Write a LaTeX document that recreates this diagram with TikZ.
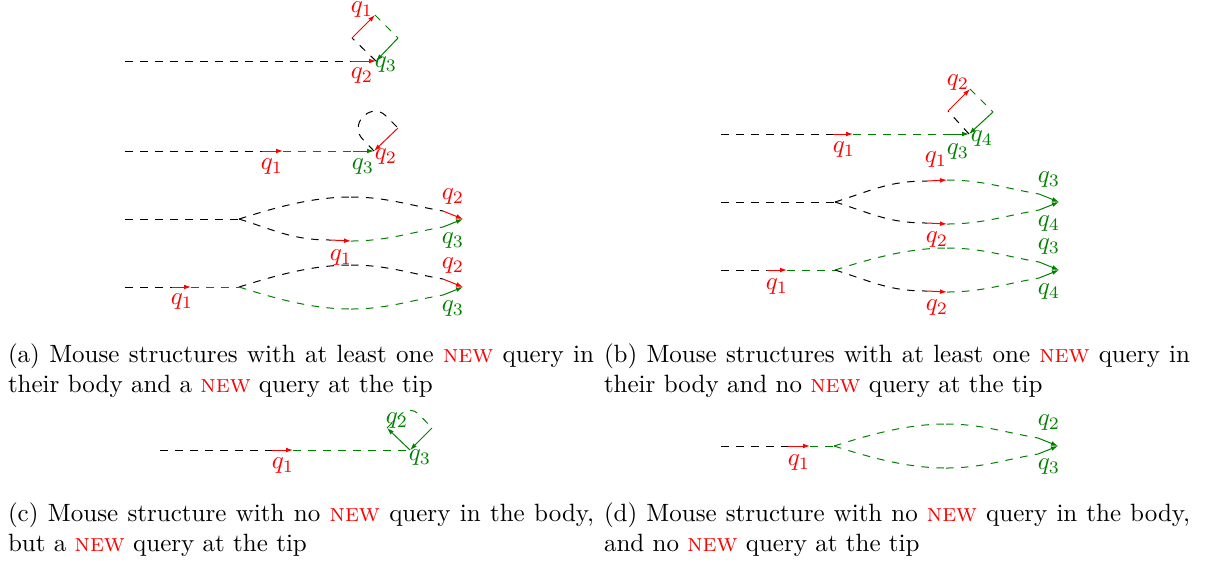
\documentclass[tikz,border=0pt]{standalone}
\usetikzlibrary{arrows.meta,calc}
\definecolor{qgreen}{rgb}{0,0.5,0}
\newcommand{\NEWtag}{{\color{red}\textsc{new}}}
% points of a two-branch lens: prefix, start x, row y
\newcommand{\lenspts}[3]{%
  \coordinate (#1S) at (#2,#3);
  \coordinate (#1Qu) at ({#2+92},{#3-21});
  \coordinate (#1Mu) at ({#2+112},{#3-22});
  \coordinate (#1Pu) at ({#2+204},{#3-8});
  \coordinate (#1Qd) at ({#2+92},{#3+21});
  \coordinate (#1Md) at ({#2+112},{#3+22});
  \coordinate (#1Pd) at ({#2+204},{#3+8});
  \coordinate (#1E) at ({#2+224},#3);}
% curved pieces of a lens branch
\newcommand{\riseup}[3]{\draw[#1] (#2) .. controls ($(#2)+(38,-12)$) and ($(#3)+(-38,0)$) .. (#3);}
\newcommand{\risedn}[3]{\draw[#1] (#2) .. controls ($(#2)+(38,12)$) and ($(#3)+(-38,0)$) .. (#3);}
\newcommand{\fallup}[3]{\draw[#1] (#2) .. controls ($(#2)+(35,0)$) and ($(#3)+(-35,-6)$) .. (#3);}
\newcommand{\falldn}[3]{\draw[#1] (#2) .. controls ($(#2)+(35,0)$) and ($(#3)+(-35,6)$) .. (#3);}
\begin{document}
\begin{tikzpicture}[x=0.4pt,y=-0.4pt,
  body/.style={dashed,black},
  bodyg/.style={dashed,qgreen},
  freshq/.style={red,-{Latex[length=2.8pt,width=1.9pt]}},
  oldq/.style={qgreen,-{Latex[length=2.8pt,width=1.9pt]}},
  rlab/.style={text=red,inner sep=0pt},
  glab/.style={text=qgreen,inner sep=0pt},
  capbox/.style={text width=234.4pt,align=justify,anchor=base west,inner sep=0pt}]
\useasboundingbox (0,0) rectangle (1205,563);

% ---------- (a) row 1: new query at the tip, loop closing on it
\coordinate (a1s) at (125,61);
\coordinate (a1p) at (351,61);
\coordinate (a1t) at (376,61);
\coordinate (a1L) at (352,38);
\coordinate (a1U) at (375,15);
\coordinate (a1R) at (398,38);
\draw[body] (a1s) -- (a1p);
\draw[freshq] (a1p) -- (a1t);
\draw[body] (a1t) -- (a1L);
\draw[freshq] (a1L) -- (a1U);
\draw[bodyg] (a1U) -- (a1R);
\draw[oldq] (a1R) -- (a1t);
\node[rlab] (a1n2) at (362,76) {$q_2$};
\node[rlab] (a1n1) at (362,10) {$q_1$};
\node[glab] (a1n3) at (386,65) {$q_3$};

% ---------- (a) row 2
\coordinate (a2s) at (125,151);
\coordinate (a2p) at (262,151);
\coordinate (a2q) at (283,151);
\coordinate (a2r) at (353,151);
\coordinate (a2t) at (374,151);
\coordinate (a2L) at (352,128);
\coordinate (a2U) at (375,105);
\coordinate (a2R) at (398,128);
\draw[body] (a2s) -- (a2p);
\draw[freshq] (a2p) -- (a2q);
\draw[bodyg] (a2q) -- (a2r);
\draw[oldq] (a2r) -- (a2t);
\draw[body,rounded corners=6pt] (a2t) -- (a2L) -- (a2U) -- (a2R);
\draw[freshq] (a2R) -- (a2t);
\node[rlab] (a2n1) at (272,167) {$q_1$};
\node[glab] (a2n3) at (363,167) {$q_3$};
\node[rlab] (a2n2) at (386,157) {$q_2$};

% ---------- (a) row 3
\coordinate (a3s) at (125,219);
\lenspts{a3}{239}{219}
\draw[body] (a3s) -- (a3S);
\riseup{body}{a3S}{a3Mu}
\fallup{body}{a3Mu}{a3Pu}
\draw[freshq] (a3Pu) -- (a3E);
\risedn{body}{a3S}{a3Qd}
\draw[freshq] (a3Qd) -- (a3Md);
\falldn{bodyg}{a3Md}{a3Pd}
\draw[oldq] (a3Pd) -- (a3E);
\node[rlab] (a3n2) at (453,197) {$q_2$};
\node[rlab] (a3n1) at (341,258) {$q_1$};
\node[glab] (a3n3) at (453,241) {$q_3$};

% ---------- (a) row 4
\coordinate (a4s) at (125,287);
\coordinate (a4p) at (172,287);
\coordinate (a4q) at (191,287);
\lenspts{a4}{239}{287}
\draw[body] (a4s) -- (a4p);
\draw[freshq] (a4p) -- (a4q);
\draw[bodyg] (a4q) -- (a4S);
\riseup{body}{a4S}{a4Mu}
\fallup{body}{a4Mu}{a4Pu}
\draw[freshq] (a4Pu) -- (a4E);
\risedn{bodyg}{a4S}{a4Md}
\falldn{bodyg}{a4Md}{a4Pd}
\draw[oldq] (a4Pd) -- (a4E);
\node[rlab] (a4n1) at (182,302) {$q_1$};
\node[rlab] (a4n2) at (453,266) {$q_2$};
\node[glab] (a4n3) at (453,309) {$q_3$};

% ---------- (b) row 1
\coordinate (b1s) at (721,134);
\coordinate (b1p) at (833,134);
\coordinate (b1q) at (853,134);
\coordinate (b1r) at (948,134);
\coordinate (b1t) at (969,134);
\coordinate (b1L) at (948,111);
\coordinate (b1U) at (970,89);
\coordinate (b1R) at (993,112);
\draw[body] (b1s) -- (b1p);
\draw[freshq] (b1p) -- (b1q);
\draw[bodyg] (b1q) -- (b1r);
\draw[oldq] (b1r) -- (b1t);
\draw[body] (b1t) -- (b1L);
\draw[freshq] (b1L) -- (b1U);
\draw[bodyg] (b1U) -- (b1R);
\draw[oldq] (b1R) -- (b1t);
\node[rlab] (b1n1) at (844,150) {$q_1$};
\node[glab] (b1n3) at (958,152) {$q_3$};
\node[glab] (b1n4) at (982,139) {$q_4$};
\node[rlab] (b1n2) at (958,83) {$q_2$};

% ---------- (b) row 2
\coordinate (b2s) at (721,202);
\lenspts{b2}{835}{202}
\draw[body] (b2s) -- (b2S);
\riseup{body}{b2S}{b2Qu}
\draw[freshq] (b2Qu) -- (b2Mu);
\fallup{bodyg}{b2Mu}{b2Pu}
\draw[oldq] (b2Pu) -- (b2E);
\risedn{body}{b2S}{b2Qd}
\draw[freshq] (b2Qd) -- (b2Md);
\falldn{bodyg}{b2Md}{b2Pd}
\draw[oldq] (b2Pd) -- (b2E);
\node[rlab] (b2n1) at (936,160) {$q_1$};
\node[rlab] (b2n2) at (937,240) {$q_2$};
\node[glab] (b2n3) at (1049,180) {$q_3$};
\node[glab] (b2n4) at (1049,224) {$q_4$};

% ---------- (b) row 3
\coordinate (b3s) at (721,270);
\coordinate (b3p) at (767,270);
\coordinate (b3q) at (787,270);
\lenspts{b3}{835}{270}
\draw[body] (b3s) -- (b3p);
\draw[freshq] (b3p) -- (b3q);
\draw[bodyg] (b3q) -- (b3S);
\riseup{bodyg}{b3S}{b3Mu}
\fallup{bodyg}{b3Mu}{b3Pu}
\draw[oldq] (b3Pu) -- (b3E);
\risedn{body}{b3S}{b3Qd}
\draw[freshq] (b3Qd) -- (b3Md);
\falldn{bodyg}{b3Md}{b3Pd}
\draw[oldq] (b3Pd) -- (b3E);
\node[rlab] (b3n1) at (777,287) {$q_1$};
\node[rlab] (b3n2) at (937,308) {$q_2$};
\node[glab] (b3n3) at (1049,247) {$q_3$};
\node[glab] (b3n4) at (1049,292) {$q_4$};

% ---------- (c)
\coordinate (c0s) at (160,450);
\coordinate (c0p) at (272,450);
\coordinate (c0q) at (293,450);
\coordinate (c0t) at (410,450);
\coordinate (c0L) at (387,428);
\coordinate (c0U) at (410,405);
\coordinate (c0R) at (432,428);
\draw[body] (c0s) -- (c0p);
\draw[freshq] (c0p) -- (c0q);
\draw[bodyg] (c0q) -- (c0t);
\draw[oldq] (c0t) -- (c0L);
\draw[bodyg,rounded corners=5pt] (c0L) -- (c0U) -- (c0R);
\draw[oldq] (c0R) -- (c0t);
\node[rlab] (c0n1) at (283,466) {$q_1$};
\node[glab] (c0n2) at (397,421) {$q_2$};
\node[glab] (c0n3) at (420,458) {$q_3$};

% ---------- (d)
\coordinate (d0s) at (721,446);
\coordinate (d0p) at (788,446);
\coordinate (d0q) at (810,446);
\lenspts{d0}{834}{446}
\draw[body] (d0s) -- (d0p);
\draw[freshq] (d0p) -- (d0q);
\draw[bodyg] (d0q) -- (d0S);
\riseup{bodyg}{d0S}{d0Mu}
\fallup{bodyg}{d0Mu}{d0Pu}
\draw[oldq] (d0Pu) -- (d0E);
\risedn{bodyg}{d0S}{d0Md}
\falldn{bodyg}{d0Md}{d0Pd}
\draw[oldq] (d0Pd) -- (d0E);
\node[rlab] (d0n1) at (799,463) {$q_1$};
\node[glab] (d0n2) at (1049,423) {$q_2$};
\node[glab] (d0n3) at (1049,467) {$q_3$};

% ---------- captions
\node[capbox] (capa) at (7.5,362) {(a) Mouse structures with at least one \NEWtag{} query in their body and a \NEWtag{} query at the tip};
\node[capbox] (capb) at (603.5,362) {(b) Mouse structures with at least one \NEWtag{} query in their body and no \NEWtag{} query at the tip};
\node[capbox] (capc) at (7.5,521) {(c) Mouse structure with no \NEWtag{} query in the body, but a \NEWtag{} query at the tip};
\node[capbox] (capd) at (603.5,521) {(d) Mouse structure with no \NEWtag{} query in the body, and no \NEWtag{} query at the tip};
\end{tikzpicture}
\end{document}
